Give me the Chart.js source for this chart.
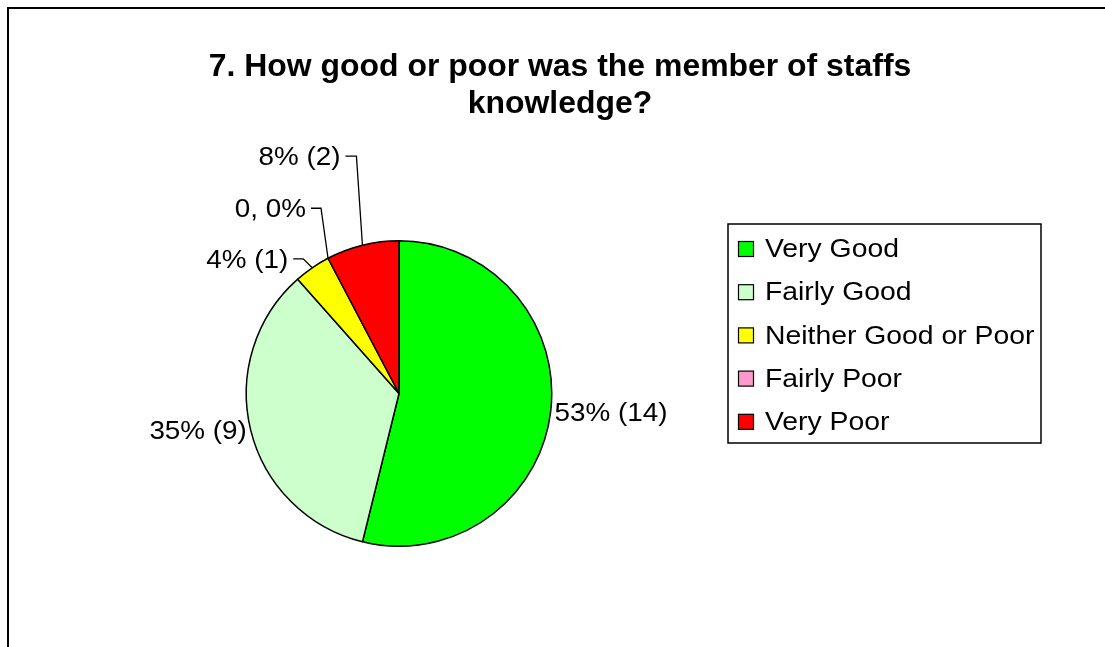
<!DOCTYPE html>
<html>
<head>
<meta charset="utf-8">
<title>Staff knowledge survey</title>
<script src="https://cdn.jsdelivr.net/npm/chart.js@4/dist/chart.umd.min.js"></script>
<style>
    html, body { margin: 0; padding: 0; background: #fff; overflow: hidden; }
    #wrap { position: relative; width: 1105px; height: 647px; }
    #frame {
        position: absolute; left: 7px; top: 7px; right: 0; bottom: 0;
        border-top: 2px solid #000; border-left: 2px solid #000;
        pointer-events: none;
    }
    canvas { position: absolute; left: 0; top: 0; }
</style>
</head>
<body>
<div id="wrap">
    <canvas id="knowledgePie" width="1105" height="647"></canvas>
    <div id="frame"></div>
</div>
<script>
// Survey answers, question 7
const titleLines = ['7. How good or poor was the member of staffs', 'knowledge?'];
const answers = ['Very Good', 'Fairly Good', 'Neither Good or Poor', 'Fairly Poor', 'Very Poor'];
const counts = [14, 9, 1, 0, 2];
const percents = [53, 35, 4, 0, 8];
const sliceColors = ['#00FF00', '#CCFFCC', '#FFFF00', '#FF99CC', '#FF0000'];

const FONT = '"Liberation Sans", Arial, sans-serif';

// Excel-style labels; the empty slice shows "value, percent"
function sliceLabel(i) {
    if (counts[i] === 0) return `${counts[i]}, ${percents[i]}%`;
    return `${percents[i]}% (${counts[i]})`;
}

// text drawn slightly wider, like the old GDI rendering
function drawWide(ctx, text, x, y, align, sx) {
    ctx.save();
    ctx.translate(x, y);
    ctx.scale(sx, 1);
    ctx.textAlign = align;
    ctx.fillText(text, 0, 0);
    ctx.restore();
}

const titlePlugin = {
    id: 'twoLineTitle',
    afterDraw(chart) {
        const ctx = chart.ctx;
        ctx.save();
        ctx.fillStyle = '#000';
        ctx.font = `bold 31px ${FONT}`;
        ctx.textBaseline = 'alphabetic';
        titleLines.forEach((line, i) => {
            drawWide(ctx, line, 560, 76 + i * 37, 'center', 1.03);
        });
        ctx.restore();
    }
};

// leader lines for the thin slices: elbow offset from the rim, then a short tail
const leaders = {
    2: { elbow: [-9, -9], tail: 10 },
    3: { elbow: [-7, -50], tail: 10 },
    4: { elbow: [-6, -89], tail: 11 }
};

const sliceLabelPlugin = {
    id: 'sliceLabels',
    afterDatasetsDraw(chart) {
        const ctx = chart.ctx;
        const meta = chart.getDatasetMeta(0);
        ctx.save();
        ctx.fillStyle = '#000';
        ctx.strokeStyle = '#000';
        ctx.lineWidth = 1.3;
        ctx.font = `26px ${FONT}`;
        ctx.textBaseline = 'middle';
        meta.data.forEach((arc, i) => {
            const p = arc.getProps(['x', 'y', 'startAngle', 'endAngle', 'outerRadius'], true);
            const mid = (p.startAngle + p.endAngle) / 2;
            const ex = p.x + p.outerRadius * Math.cos(mid);
            const ey = p.y + p.outerRadius * Math.sin(mid);
            const text = sliceLabel(i);
            const lead = leaders[i];
            if (lead) {
                const bx = ex + lead.elbow[0];
                const by = ey + lead.elbow[1];
                const tx = bx - lead.tail;
                ctx.beginPath();
                ctx.moveTo(ex, ey);
                ctx.lineTo(bx, by);
                ctx.lineTo(tx, by);
                ctx.stroke();
                drawWide(ctx, text, tx - 5, by + 2, 'right', 1.07);
            } else {
                const gap = 4;
                const lx = p.x + (p.outerRadius + gap) * Math.cos(mid);
                const ly = p.y + (p.outerRadius + gap) * Math.sin(mid);
                const align = Math.cos(mid) >= 0 ? 'left' : 'right';
                drawWide(ctx, text, lx, ly + 1, align, 1.07);
            }
        });
        ctx.restore();
    }
};

const boxLegendPlugin = {
    id: 'boxLegend',
    afterDraw(chart) {
        const ctx = chart.ctx;
        const left = 728, top = 224, right = 1041, bottom = 443;
        ctx.save();
        ctx.fillStyle = '#fff';
        ctx.fillRect(left, top, right - left, bottom - top);
        ctx.strokeStyle = '#000';
        ctx.lineWidth = 1.5;
        ctx.strokeRect(left, top, right - left, bottom - top);
        ctx.font = `26px ${FONT}`;
        ctx.textBaseline = 'middle';
        chart.data.labels.forEach((label, i) => {
            const cy = 249 + i * 43.2;
            ctx.fillStyle = chart.data.datasets[0].backgroundColor[i];
            ctx.fillRect(738.5, cy - 7.5, 15, 15);
            ctx.lineWidth = 1.2;
            ctx.strokeRect(738.5, cy - 7.5, 15, 15);
            ctx.fillStyle = '#000';
            drawWide(ctx, label, 765, cy + 1, 'left', 1.09);
        });
        ctx.restore();
    }
};

new Chart(document.getElementById('knowledgePie'), {
    type: 'pie',
    data: {
        labels: answers,
        datasets: [{
            data: counts,
            backgroundColor: sliceColors,
            borderColor: '#000',
            borderWidth: 1.5
        }]
    },
    options: {
        responsive: false,
        devicePixelRatio: 1,
        animation: false,
        layout: {
            padding: { left: 0, right: 307, top: 240, bottom: 100 }
        },
        plugins: {
            legend: { display: false },
            title: { display: false },
            tooltip: { enabled: false }
        }
    },
    plugins: [titlePlugin, sliceLabelPlugin, boxLegendPlugin]
});
</script>
</body>
</html>
